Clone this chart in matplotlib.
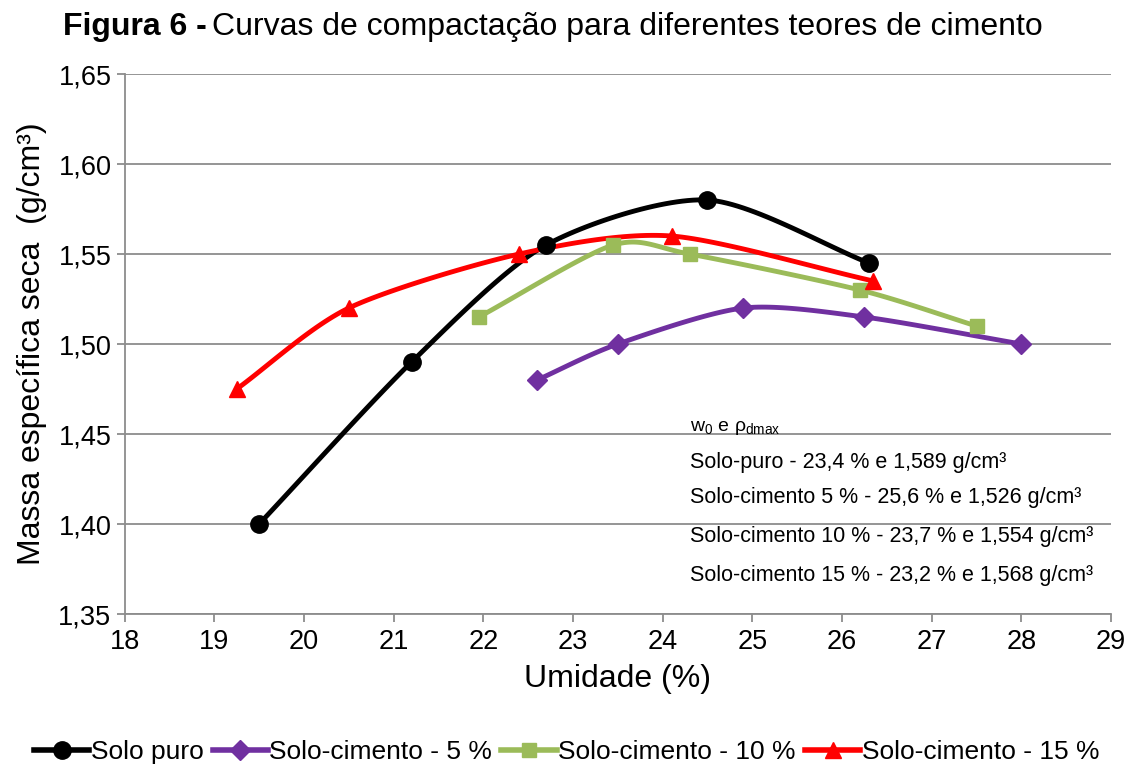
import numpy as np
import matplotlib
matplotlib.use("Agg")
import matplotlib.pyplot as plt
from matplotlib.ticker import FuncFormatter

plt.rcParams['font.family'] = ['Liberation Sans', 'DejaVu Sans']
plt.rcParams['mathtext.fontset'] = 'custom'
plt.rcParams['mathtext.rm'] = 'Liberation Sans'
plt.rcParams['mathtext.it'] = 'Liberation Sans'

# Dados
umid_puro = [19.5, 21.2, 22.7, 24.5, 26.3]
dens_puro = [1.400, 1.490, 1.555, 1.580, 1.545]

umid_5 = [22.6, 23.5, 24.9, 26.25, 28.0]
dens_5 = [1.480, 1.500, 1.520, 1.515, 1.500]

umid_10 = [21.95, 23.45, 24.3, 26.2, 27.5]
dens_10 = [1.515, 1.555, 1.550, 1.530, 1.510]

umid_15 = [19.25, 20.5, 22.4, 24.1, 26.35]
dens_15 = [1.475, 1.520, 1.550, 1.560, 1.535]

nomes = ['Solo puro', 'Solo-cimento - 5 %', 'Solo-cimento - 10 %', 'Solo-cimento - 15 %']
cores = ['#000000', '#7030A0', '#9BBB59', '#FF0000']
marcadores = ['o', 'D', 's', '^']
tam_marc = [12.5, 10, 10, 12]

notas = ['Solo-puro - 23,4 % e 1,589 g/cm³',
         'Solo-cimento 5 % - 25,6 % e 1,526 g/cm³',
         'Solo-cimento 10 % - 23,7 % e 1,554 g/cm³',
         'Solo-cimento 15 % - 23,2 % e 1,568 g/cm³']


def suavizar(x, y, n=30):
    """Curva suave tipo Catmull-Rom entre os pontos (linha suavizada do Excel)."""
    p = np.column_stack([x, y]).astype(float)
    # escala para que x e y tenham peso parecido
    esc = np.array([1.0, 20.0])
    p = p * esc
    p = np.vstack([2 * p[0] - p[1], p, 2 * p[-1] - p[-2]])
    saida = []
    t = np.linspace(0, 1, n)
    for i in range(1, len(p) - 2):
        p0, p1, p2, p3 = p[i - 1], p[i], p[i + 1], p[i + 2]
        m1 = (p2 - p0) / 2 * 0.8
        m2 = (p3 - p1) / 2 * 0.8
        h00 = 2 * t**3 - 3 * t**2 + 1
        h10 = t**3 - 2 * t**2 + t
        h01 = -2 * t**3 + 3 * t**2
        h11 = t**3 - t**2
        seg = (h00[:, None] * p1 + h10[:, None] * m1 + h01[:, None] * p2 + h11[:, None] * m2)
        saida.append(seg)
    s = np.vstack(saida) / esc
    return s[:, 0], s[:, 1]


fig = plt.figure(figsize=(11.33, 7.71), dpi=100)
ax = fig.add_axes([0.110, 0.2036, 0.8706, 0.7004])

series = [(umid_puro, dens_puro), (umid_5, dens_5), (umid_10, dens_10), (umid_15, dens_15)]
for (x, y), nome, cor, mk, ms in zip(series, nomes, cores, marcadores, tam_marc):
    xs, ys = suavizar(x, y)
    ax.plot(xs, ys, color=cor, lw=3.5, zorder=3, solid_capstyle='round')
    ax.plot(x, y, ls='none', marker=mk, color=cor, ms=ms, zorder=4)
    ax.plot([], [], color=cor, lw=4, marker=mk, ms=ms, label=nome)

ax.set_xlim(18, 29)
ax.set_ylim(1.35, 1.65)
ax.set_xticks(range(18, 30))
ax.set_yticks(np.arange(1.35, 1.66, 0.05))
ax.yaxis.set_major_formatter(FuncFormatter(lambda v, p: f'{v:.2f}'.replace('.', ',')))
ax.grid(axis='y', color='#8c8c8c', lw=1.3)
ax.set_axisbelow(True)
for lado in ['top', 'right']:
    ax.spines[lado].set_visible(False)
for lado in ['left', 'bottom']:
    ax.spines[lado].set_color('#8c8c8c')
    ax.spines[lado].set_linewidth(1.3)
ax.tick_params(axis='both', labelsize=19.5, color='#8c8c8c', length=6, width=1.3)
ax.tick_params(axis='x', pad=5)
ax.set_xlabel('Umidade (%)', fontsize=23, labelpad=6)
ax.set_ylabel('Massa específica seca  (g/cm³)', fontsize=23, labelpad=8)

# notas dentro do grafico
ax.text(0.573, 0.344, r'w$_0$ e ρ$_{\mathrm{dmax}}$', transform=ax.transAxes,
        fontsize=14, va='center', ha='left')
ys_notas = [0.281, 0.215, 0.143, 0.072]
for yy, txt in zip(ys_notas, notas):
    ax.text(0.573, yy, txt, transform=ax.transAxes, fontsize=15.5, va='center', ha='left')

# titulo com parte em negrito
t1 = fig.text(63 / 1133, 1 - 27 / 771, 'Figura 6 -', fontsize=23, fontweight='bold', va='center', ha='left')
fig.canvas.draw()
bb = t1.get_window_extent(fig.canvas.get_renderer())
fig.text(bb.x1 / fig.bbox.width + 0.005, 1 - 27 / 771,
         'Curvas de compactação para diferentes teores de cimento',
         fontsize=23, va='center', ha='left')

fig.legend(loc='center', bbox_to_anchor=(0.5, 1 - 752 / 771), ncol=4, frameon=False,
           fontsize=19, handlelength=2.1, handletextpad=0.05, columnspacing=0.35)

fig.savefig('out.png', dpi=100)
